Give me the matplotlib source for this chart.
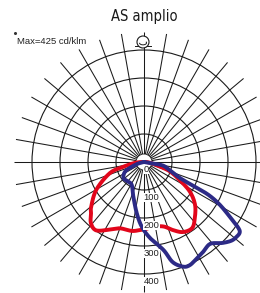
import numpy as np
import matplotlib
matplotlib.use("Agg")
import matplotlib.pyplot as plt
from matplotlib.patches import Circle, Arc

# --- data (cd/klm vs angle from nadir, +ve = right side) ---
TITLE = "AS amplio"
MAX_TEXT = "Max=425 cd/klm"
RINGS = [100, 200, 300, 400]
RING_LABELS = ["0", "100", "200", "300", "400"]
RING_LABEL_VALUES = [0, 100, 200, 300, 400]

red_deg = [-90, -84, -77, -72, -60, -50, -46, -41, -35, -27, -20, -10, -3, 2, 8, 17,
           23, 29, 36, 42, 50, 57, 63, 70, 74, 80, 90]
red_cd = [10, 35, 76, 128, 196, 246, 263, 289, 298, 271, 252, 250, 243, 239, 233, 241,
          264, 286, 292, 271, 238, 196, 144, 99, 60, 30, 10]

blue_deg = [80, 74, 66, 64, 63, 60.5, 57, 55, 53.5, 51, 48, 44, 39, 33.5, 29, 24, 20.5,
            16, 12.5, 4.5, -2, -8, -17, -28, -39, -52, -63, -68.5, -75]
blue_cd = [63, 89, 141, 202, 258, 312, 372, 412, 425, 425, 420, 402, 376, 384, 392, 403,
           399, 372, 322, 272, 231, 185, 130, 93, 90, 93, 76, 49, 22]

RED = "#e2061b"
BLUE = "#2c2a86"
GRID = "#1a1a1a"

# pixel geometry of the reference
W, H = 260, 293
CX, CY = 144, 162       # centre of the diagram (px)
PX = 0.28               # px per cd/klm

fig = plt.figure(figsize=(W / 100, H / 100), dpi=100)
ax = fig.add_axes([0, 0, 1, 1])
ax.set_xlim(-CX / PX, (W - CX) / PX)
ax.set_ylim(-(H - CY) / PX, CY / PX)
ax.set_aspect("equal")
ax.axis("off")

# spokes every 10 deg, main axes go through the centre
r_in, r_out = 8 / PX, 130 / PX
for a in range(0, 360, 10):
    t = np.radians(a)
    r0 = 0 if a % 90 == 0 else r_in
    ax.plot([r0 * np.sin(t), r_out * np.sin(t)], [-r0 * np.cos(t), -r_out * np.cos(t)],
            color=GRID, lw=0.75, zorder=1, solid_capstyle="butt")
for r in RINGS:
    ax.add_patch(Circle((0, 0), r, fill=False, ec=GRID, lw=0.8, zorder=1))
ax.add_patch(Circle((0, 0), r_in, fc="white", ec=GRID, lw=0.6, zorder=2))
ax.plot([-r_in, r_in], [0, 0], color=GRID, lw=0.75, zorder=2)

# luminaire icon on top
ix, iy = -1 / PX, 120 / PX
ax.plot([ix - 30, ix + 30], [iy - 15, iy - 15], color=GRID, lw=0.7, zorder=3)
ax.add_patch(Circle((ix, iy), 6 / PX, fc="white", ec=GRID, lw=0.8, zorder=4))
ax.add_patch(Arc((ix, iy - 3), 7 / PX, 4 / PX, theta1=180, theta2=20, color=GRID, lw=0.7, zorder=5))


def catmull(x, y, n=12):
    """uniform Catmull-Rom through the points, ends clamped."""
    p = np.column_stack([x, y])
    p = np.vstack([p[0], p, p[-1]])
    out = []
    s = np.linspace(0, 1, n, endpoint=False)[:, None]
    for i in range(1, len(p) - 2):
        p0, p1, p2, p3 = p[i - 1], p[i], p[i + 1], p[i + 2]
        seg = 0.5 * ((2 * p1) + (-p0 + p2) * s + (2 * p0 - 5 * p1 + 4 * p2 - p3) * s ** 2
                     + (-p0 + 3 * p1 - 3 * p2 + p3) * s ** 3)
        out.append(seg)
    out.append(p[-2][None, :])
    out = np.vstack(out)
    return out[:, 0], out[:, 1]


def curve(deg, cd):
    t = np.radians(np.asarray(deg, float))
    v = np.asarray(cd, float)
    x = np.concatenate([[0], v * np.sin(t), [0]])
    y = np.concatenate([[0], -v * np.cos(t), [0]])
    return catmull(x, y)


rx, ry = curve(red_deg, red_cd)
ax.plot(rx, ry, color=RED, lw=2.8, zorder=6, solid_joinstyle="round", solid_capstyle="round")
bx, by = curve(blue_deg, blue_cd)
ax.plot(bx, by, color=BLUE, lw=2.8, zorder=7, solid_joinstyle="round", solid_capstyle="round")

# ring labels below each ring
for lab, v in zip(RING_LABELS, RING_LABEL_VALUES):
    ax.text(-1.5, -(v * PX + 7.5) / PX, lab, ha="left", va="center", fontsize=6.8,
            family=["Liberation Sans", "DejaVu Sans"], color="#222",
            bbox=dict(fc="white", ec="none", pad=0.3), zorder=8)

fig.text(CX / W, 1 - 17 / H, TITLE, ha="center", va="center", fontsize=10.5,
         family="DejaVu Sans", fontstretch="condensed", color="#1a1a1a")
fig.text(17 / W, 1 - 42 / H, MAX_TEXT, ha="left", va="center", fontsize=6.8,
         family=["Liberation Sans", "DejaVu Sans"], color="#222")
ax.plot([-(CX - 15) / PX], [(CY - 33) / PX], "o", ms=1.2, color="#333")

fig.savefig("out.png", dpi=100, facecolor="white")
